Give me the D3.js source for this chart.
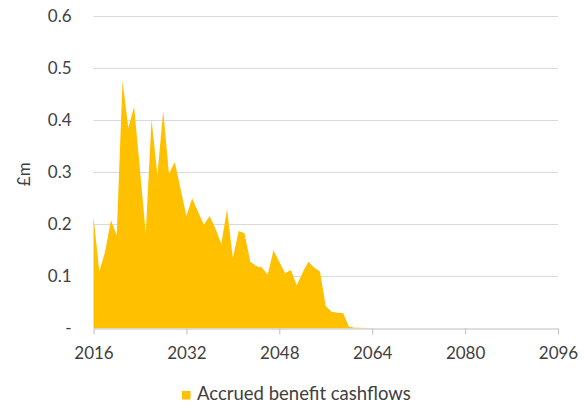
<!DOCTYPE html>
<html>
<head>
<meta charset="utf-8">
<script src="https://cdn.jsdelivr.net/npm/d3@7"></script>
<style>
  html, body { margin: 0; padding: 0; background: #fff; }
  svg text { font-family: Lato, "Open Sans", sans-serif; fill: #404040; }
</style>
</head>
<body>
<svg id="chart" width="584" height="408"></svg>
<script>
// Annual accrued benefit cashflows, £m
const years = [
  2016, 2017, 2018, 2019, 2020, 2021, 2022, 2023, 2024, 2025,
  2026, 2027, 2028, 2029, 2030, 2031, 2032, 2033, 2034, 2035,
  2036, 2037, 2038, 2039, 2040, 2041, 2042, 2043, 2044, 2045,
  2046, 2047, 2048, 2049, 2050, 2051, 2052, 2053, 2054, 2055,
  2056, 2057, 2058, 2059, 2060, 2061, 2062, 2063, 2064
];
const cashflows = [
  0.215, 0.109, 0.147, 0.208, 0.179, 0.476, 0.385, 0.426, 0.305, 0.183,
  0.402, 0.295, 0.418, 0.297, 0.320, 0.268, 0.216, 0.250, 0.224, 0.199,
  0.216, 0.192, 0.162, 0.229, 0.135, 0.187, 0.183, 0.128, 0.120, 0.117,
  0.103, 0.150, 0.128, 0.106, 0.112, 0.083, 0.107, 0.128, 0.117, 0.109,
  0.043, 0.032, 0.030, 0.029, 0.003, 0.001, 0.001, 0.0005, 0
];
const xTicks = [2016, 2032, 2048, 2064, 2080, 2096];
const yTicks = [0, 0.1, 0.2, 0.3, 0.4, 0.5, 0.6];
const seriesName = "Accrued benefit cashflows";
const yTitle = "£m";

const data = years.map((yr, i) => ({ year: yr, value: cashflows[i] }));

const svg = d3.select("#chart");
const plotLeft = 93.5, plotRight = 558, plotTop = 16.3, plotBottom = 328.3;

const x = d3.scaleLinear().domain([2016, 2096]).range([plotLeft, plotRight]);
const y = d3.scaleLinear().domain([0, 0.6]).range([plotBottom, plotTop]);

// horizontal gridlines
svg.append("g")
  .selectAll("line")
  .data(yTicks.filter(t => t > 0))
  .join("line")
  .attr("x1", plotLeft).attr("x2", plotRight)
  .attr("y1", d => Math.round(y(d)) + 0.5).attr("y2", d => Math.round(y(d)) + 0.5)
  .attr("stroke", "#d9d9d9").attr("stroke-width", 1);

// area
svg.append("path")
  .datum(data)
  .attr("fill", "#FFC000")
  .attr("d", d3.area().x(d => x(d.year)).y0(y(0)).y1(d => y(d.value)));

// y axis labels
const yAxis = d3.axisLeft(y).tickValues(yTicks)
  .tickFormat(d => d === 0 ? "-" : d3.format(".1f")(d))
  .tickSize(0).tickPadding(0);
const gy = svg.append("g").attr("transform", `translate(${plotLeft - 22},0)`).call(yAxis);
gy.select(".domain").remove();
gy.selectAll("text").attr("font-size", 17).style("font-family", "Lato, sans-serif").attr("fill", "#404040");

// x axis
const xAxis = d3.axisBottom(x).tickValues(xTicks).tickFormat(d3.format("d"))
  .tickSize(6).tickSizeOuter(0).tickPadding(12);
const gx = svg.append("g").attr("transform", `translate(0,${Math.round(plotBottom) + 0.5})`).call(xAxis);
gx.select(".domain").attr("stroke", "#bfbfbf");
gx.selectAll(".tick line").attr("stroke", "#bfbfbf");
gx.selectAll("text").attr("font-size", 17).style("font-family", "Lato, sans-serif").attr("fill", "#404040");

// y title
svg.append("text")
  .attr("transform", `translate(30,${(plotTop + plotBottom) / 2 + 2}) rotate(-90)`)
  .attr("text-anchor", "middle")
  .attr("font-size", 17)
  .text(yTitle);

// legend
const lg = svg.append("g").attr("transform", "translate(182,391)");
lg.append("rect").attr("width", 8.5).attr("height", 8.5).attr("fill", "#FFC000");
lg.append("text").attr("x", 15).attr("y", 9).attr("font-size", 18.5).text(seriesName);
</script>
</body>
</html>
